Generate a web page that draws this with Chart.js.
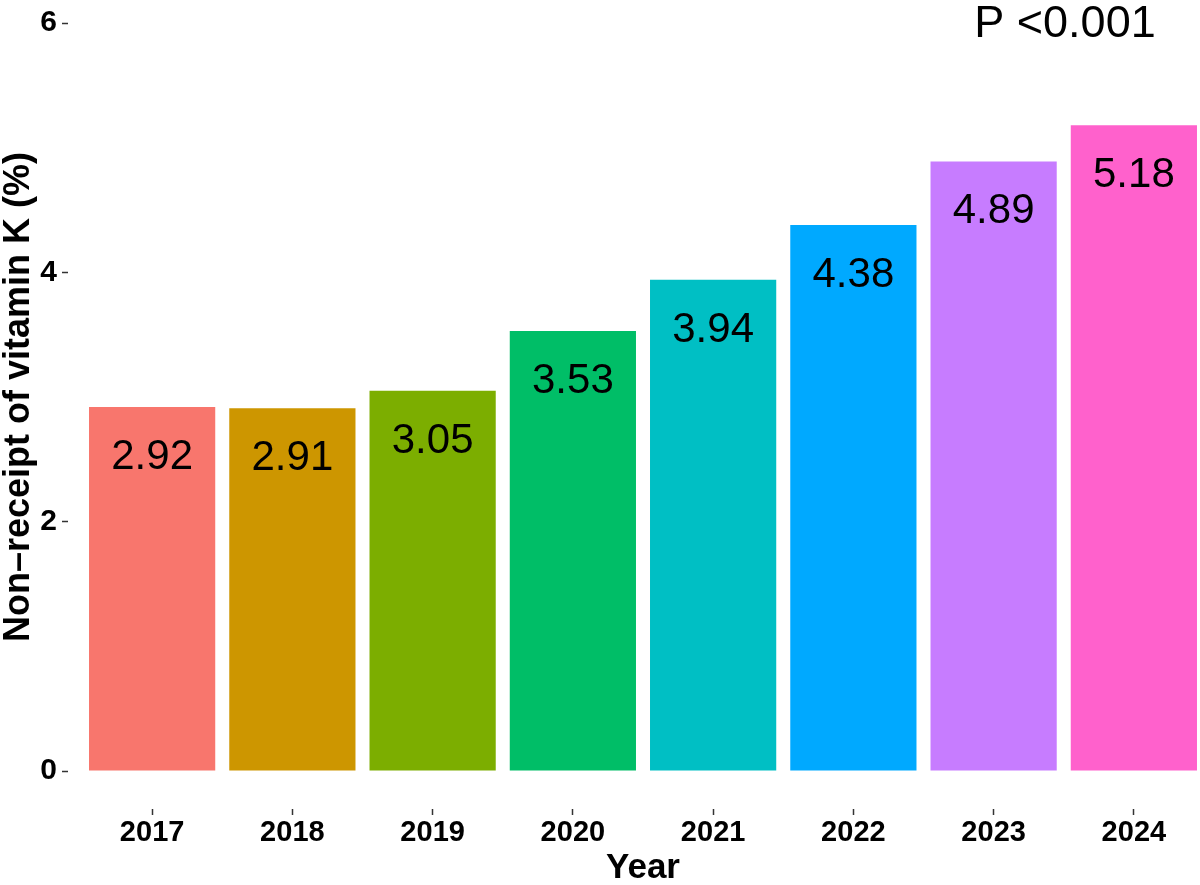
<!DOCTYPE html>
<html>
<head>
<meta charset="utf-8">
<script src="https://cdn.jsdelivr.net/npm/chart.js@4/dist/chart.umd.min.js"></script>
<style>
  html, body { margin: 0; padding: 0; background: #fff; overflow: hidden; }
  #wrap { width: 1204px; height: 885px; }
</style>
</head>
<body>
<div id="wrap"><canvas id="myChart"></canvas></div>
<script>
let years = ['2017', '2018', '2019', '2020', '2021', '2022', '2023', '2024'];
let rates = [2.92, 2.91, 3.05, 3.53, 3.94, 4.38, 4.89, 5.18];
let colorHex = ['#F8766D', '#CD9600', '#7CAE00', '#00BE67', '#00BFC4', '#00A9FF', '#C77CFF', '#FF61CC'];
let pText = 'P <0.001';

let fontFam = '"Liberation Sans", Arial, Helvetica, sans-serif';

// value labels inside each bar + the p-value note
let barLabels = {
    id: 'barLabels',
    afterDatasetsDraw(chart) {
        let c = chart.ctx;
        let meta = chart.getDatasetMeta(0);
        c.save();
        c.fillStyle = '#000';
        c.font = '42px ' + fontFam;
        c.textAlign = 'center';
        c.textBaseline = 'alphabetic';
        meta.data.forEach((bar, i) => {
            c.fillText(rates[i].toFixed(2), bar.x, bar.y + 62);
        });
        c.font = '45px ' + fontFam;
        c.fillText(pText, 1065, 37);
        c.restore();
    }
};

let ctx = document.getElementById('myChart').getContext('2d');
let myChart = new Chart(ctx, {
    type: 'bar',
    data: {
        labels: years,
        datasets: [{
            data: rates,
            backgroundColor: colorHex,
            borderWidth: 0,
            barPercentage: 0.9,
            categoryPercentage: 1.0
        }]
    },
    options: {
        responsive: true,
        maintainAspectRatio: false,
        animation: false,
        layout: { padding: { top: 22, right: 0, bottom: 0, left: 0 } },
        plugins: {
            legend: { display: false },
            tooltip: { enabled: false }
        },
        scales: {
            x: {
                offset: true,
                border: { display: false },
                grid: {
                    offset: false,
                    drawOnChartArea: false,
                    drawTicks: true,
                    tickLength: 44,
                    tickColor: '#333',
                    tickWidth: 1.5,
                    tickBorderDash: [6, 38],
                    tickBorderDashOffset: 6
                },
                ticks: {
                    color: '#000',
                    padding: 1,
                    font: { family: fontFam, size: 29, weight: 'bold' }
                },
                title: {
                    display: true,
                    text: 'Year',
                    color: '#000',
                    padding: { top: 0, bottom: -4 },
                    font: { family: fontFam, size: 35, weight: 'bold' }
                },
                afterFit: (s) => { s.height = 114; }
            },
            y: {
                min: 0,
                max: 6,
                border: { display: false },
                grid: {
                    drawOnChartArea: false,
                    drawTicks: true,
                    tickLength: 20,
                    tickColor: '#333',
                    tickWidth: 1.5,
                    tickBorderDash: [6, 100]
                },
                ticks: {
                    stepSize: 2,
                    color: '#000',
                    padding: 5,
                    font: { family: fontFam, size: 30, weight: 'bold' }
                },
                title: {
                    display: true,
                    text: 'Non\u2013receipt of vitamin K (%)',
                    color: '#000',
                    padding: { top: -3, bottom: 0 },
                    font: { family: fontFam, size: 36, weight: 'bold' }
                },
                afterFit: (s) => { s.width = 82; }
            }
        }
    },
    plugins: [barLabels]
});
</script>
</body>
</html>
